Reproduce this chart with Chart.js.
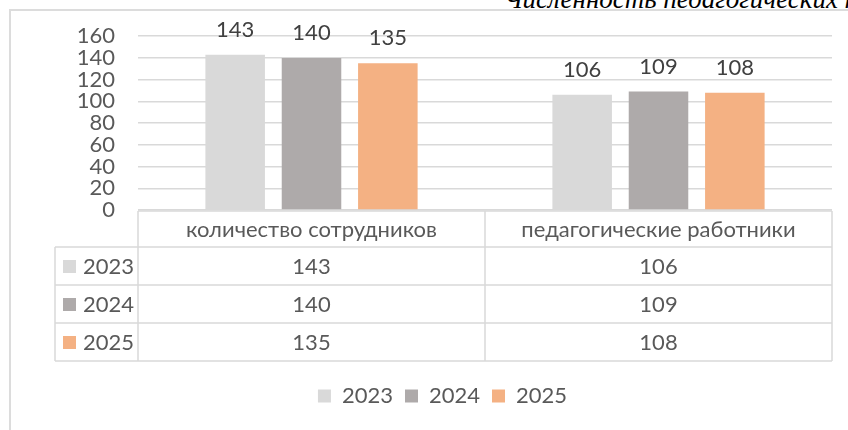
<!DOCTYPE html>
<html>
<head>
<meta charset="utf-8">
<script src="https://cdn.jsdelivr.net/npm/chart.js@4.4.1/dist/chart.umd.min.js"></script>
<style>
  html, body { margin: 0; padding: 0; background: #fff; overflow: hidden; }
  #wrap { position: relative; width: 848px; height: 430px; overflow: hidden; }
  #frame { position: absolute; left: 9px; top: 9px; width: 900px; height: 500px;
    border-top: 2px solid #dcdcdc; border-left: 2px solid #dcdcdc; pointer-events: none; }
  #title { position: absolute; left: 504px; top: -16px; white-space: nowrap; line-height: 27px;
    font: italic 27px "Liberation Serif", serif; color: #000; }
  canvas { position: absolute; left: 0; top: 0; }
</style>
</head>
<body>
<div id="wrap">
  <div id="title">Численность педагогических кадров</div>
  <div id="frame"></div>
  <canvas id="chart" width="848" height="430"></canvas>
</div>
<script>
const categories = ['количество сотрудников', 'педагогические работники'];
const years = ['2023', '2024', '2025'];
const values2023 = [143, 106];
const values2024 = [140, 109];
const values2025 = [135, 108];
const seriesColors = ['#d9d9d9', '#aeaaaa', '#f4b183'];
const yMin = 0, yMax = 160, yStep = 20;

const FONT = 'Lato, "Noto Sans", sans-serif';
const FONT_SIZE = 22;
const TEXT = '#595959';
const LINE = '#d9d9d9';

// value labels above each bar
const barLabels = {
  id: 'barLabels',
  afterDatasetsDraw(chart) {
    const ctx = chart.ctx;
    ctx.save();
    ctx.font = FONT_SIZE + 'px ' + FONT;
    ctx.fillStyle = '#404040';
    ctx.textAlign = 'center';
    ctx.textBaseline = 'alphabetic';
    chart.data.datasets.forEach((ds, i) => {
      chart.getDatasetMeta(i).data.forEach((bar, j) => {
        ctx.fillText(ds.data[j], bar.x, bar.y - 18);
      });
    });
    ctx.restore();
  }
};

// excel-like data table under the plot
const dataTable = {
  id: 'dataTable',
  afterDraw(chart) {
    const ctx = chart.ctx;
    const area = chart.chartArea;
    const x = chart.scales.x;
    const n = chart.data.labels.length;
    const colW = (area.right - area.left) / n;
    const top = area.bottom + 1;
    const headH = 36, rowH = 38;
    const labelLeft = 55;
    const rows = chart.data.datasets.length;
    const bottom = top + headH + rows * rowH;

    ctx.save();
    ctx.strokeStyle = LINE;
    ctx.lineWidth = 1.5;
    ctx.beginPath();
    ctx.moveTo(area.left, top); ctx.lineTo(area.right, top);
    for (let r = 0; r <= rows; r++) {
      const y = top + headH + r * rowH;
      ctx.moveTo(labelLeft, y); ctx.lineTo(area.right, y);
    }
    for (let c = 0; c <= n; c++) {
      const xx = area.left + c * colW;
      ctx.moveTo(xx, top); ctx.lineTo(xx, bottom);
    }
    ctx.moveTo(labelLeft, top + headH); ctx.lineTo(labelLeft, bottom);
    ctx.stroke();

    ctx.font = FONT_SIZE + 'px ' + FONT;
    ctx.fillStyle = TEXT;
    ctx.textBaseline = 'middle';
    ctx.textAlign = 'center';
    chart.data.labels.forEach((lab, c) => {
      ctx.fillText(lab, x.getPixelForValue(c), top + headH / 2 + 1);
    });
    chart.data.datasets.forEach((ds, r) => {
      const cy = top + headH + r * rowH + rowH / 2 + 1;
      ctx.textAlign = 'center';
      ctx.fillStyle = TEXT;
      ds.data.forEach((v, c) => ctx.fillText(v, x.getPixelForValue(c), cy));
      ctx.fillStyle = ds.backgroundColor;
      ctx.fillRect(63, cy - 7, 13, 13);
      ctx.fillStyle = TEXT;
      ctx.textAlign = 'left';
      ctx.fillText(ds.label, 83, cy);
    });
    ctx.restore();
  }
};

// nudge the legend to the right, like the original
const legendShift = {
  id: 'legendShift',
  afterLayout(chart) {
    chart.legend.left += 22;
    chart.legend.right += 22;
  }
};

new Chart(document.getElementById('chart'), {
  type: 'bar',
  data: {
    labels: categories,
    datasets: [
      { label: years[0], data: values2023, backgroundColor: seriesColors[0] },
      { label: years[1], data: values2024, backgroundColor: seriesColors[1] },
      { label: years[2], data: values2025, backgroundColor: seriesColors[2] }
    ]
  },
  options: {
    responsive: false,
    animation: false,
    layout: { padding: { left: 9, right: 16, top: 36, bottom: 13 } },
    datasets: { bar: { categoryPercentage: 0.66, barPercentage: 0.78 } },
    scales: {
      x: {
        ticks: { display: false },
        grid: { display: false },
        border: { display: false },
        afterFit(scale) { scale.height = 163; }
      },
      y: {
        min: yMin, max: yMax,
        ticks: { stepSize: yStep, autoSkip: false, padding: 23, color: TEXT, font: { family: FONT, size: FONT_SIZE } },
        grid: { color: LINE, lineWidth: 1.5, drawTicks: false },
        border: { display: false },
        afterFit(scale) { scale.width = 129; }
      }
    },
    plugins: {
      tooltip: { enabled: false },
      legend: {
        position: 'bottom',
        labels: { boxWidth: 13, boxHeight: 13, padding: 12, color: TEXT, font: { family: FONT, size: FONT_SIZE } }
      }
    }
  },
  plugins: [barLabels, dataTable, legendShift]
});
</script>
</body>
</html>
